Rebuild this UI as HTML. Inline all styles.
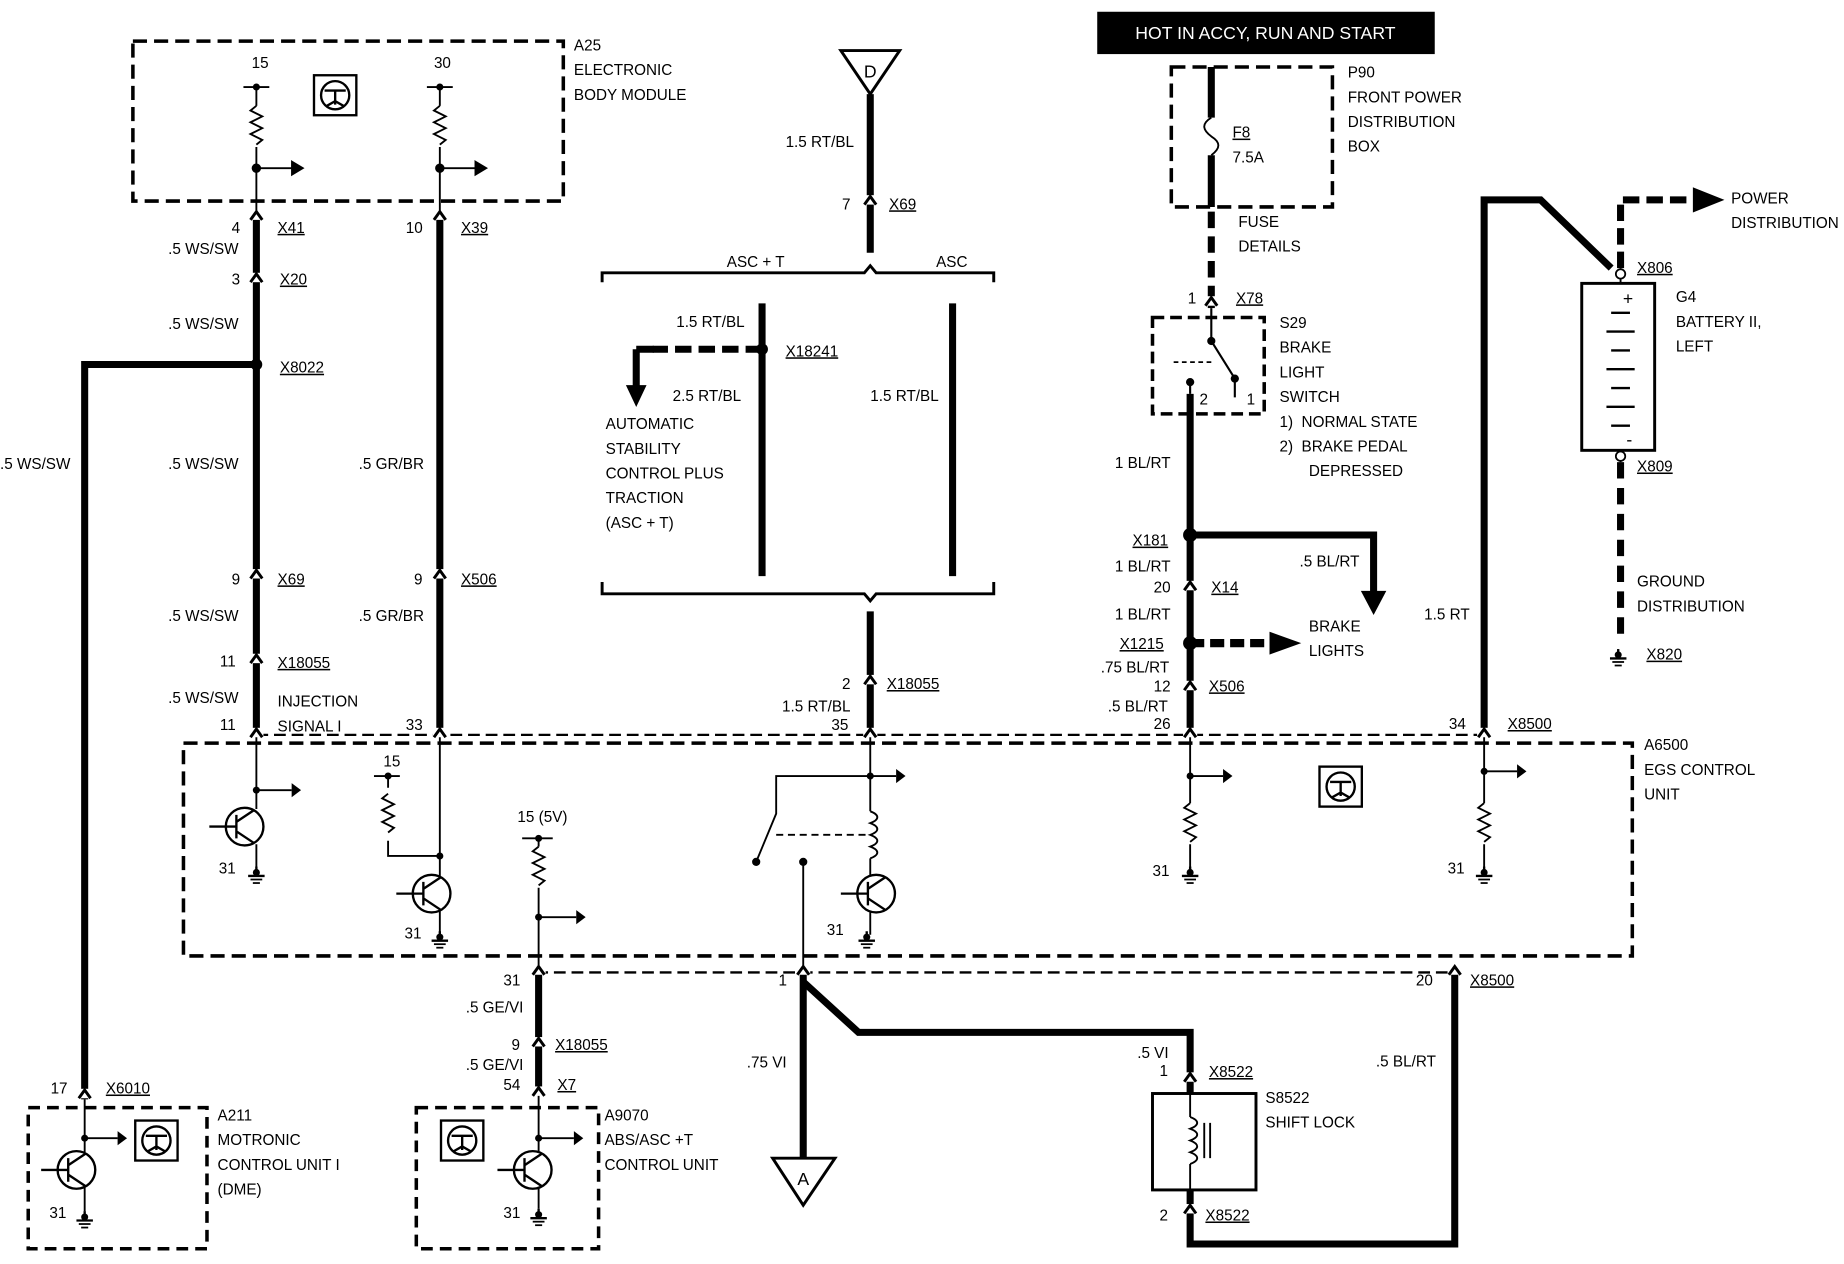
<!DOCTYPE html>
<html><head><meta charset="utf-8"><style>
html,body{margin:0;padding:0;background:#fff;}
svg{display:block;}
text{font-family:"Liberation Sans Narrow","Liberation Sans",sans-serif;font-size:13px;fill:#000;}
.u{text-decoration:underline;}
</style></head><body>
<svg width="1844" height="1264" viewBox="0 0 1568 1075" preserveAspectRatio="none" xmlns="http://www.w3.org/2000/svg">
<defs>
<g id="ch"><rect x="-6" y="-6" width="12" height="8" fill="#fff"/><path d="M-5,2 L0,-5 L5,2" stroke="#000" stroke-width="2.5" fill="none"/></g>
<g id="gnd"><line x1="0" y1="-8" x2="0" y2="0" stroke="#000" stroke-width="2"/><circle cx="0" cy="-3" r="3"/><line x1="-7" y1="0" x2="7" y2="0" stroke="#000" stroke-width="2"/><line x1="-5" y1="3" x2="5" y2="3" stroke="#000" stroke-width="1.5"/><line x1="-3" y1="6" x2="3" y2="6" stroke="#000" stroke-width="1.5"/></g>
<g id="ico"><rect x="0" y="0" width="36" height="34" fill="#fff" stroke="#000" stroke-width="2"/><circle cx="18" cy="17" r="12" fill="none" stroke="#000" stroke-width="2"/><path d="M9,13 H27 M18,13 V25 M18,22 L11,26 M18,22 L25,26" stroke="#000" stroke-width="2" fill="none"/></g>
<g id="res"><path d="M0,0 l-5,4 l10,5 l-10,5 l10,5 l-10,5 l10,5 l-5,4" stroke="#000" stroke-width="1.6" fill="none"/></g>
<g id="tr"><circle cx="0" cy="0" r="16" fill="none" stroke="#000" stroke-width="2"/><path d="M-30,0 H-7 M-7,-10 V10 M-7,-4 L8,-14 M-7,4 L8,14" stroke="#000" stroke-width="2" fill="none"/></g>
</defs>
<g fill="none" stroke="#000">
<!-- A25 -->
<rect x="113" y="35" width="366" height="136" stroke-width="3" stroke-dasharray="12,6"/>
<path d="M207,74H229M218,74V90M218,125V185M363,74H385M374,74V90M374,125V185" stroke-width="1.6"/>
<path d="M218,185V625M374,185V625" stroke-width="6"/>
<path d="M218,143H250M374,143H406" stroke-width="1.6"/>
<path d="M248,137L258,143L248,149Z M404,137L414,143L404,149Z" fill="#000"/>
<path d="M218,310H72V935" stroke-width="6"/>
<!-- D center -->
<path d="M715,43H765L740,80Z" stroke-width="2.5" fill="#fff"/>
<path d="M740,80V215" stroke-width="6"/>
<path d="M512,240V232H735L740,226L745,232H845V240" stroke-width="2.5"/>
<path d="M512,495V505H735L740,511L745,505H845V495" stroke-width="2.5"/>
<path d="M648,258V490M810,258V490" stroke-width="6"/>
<path d="M740,520V625" stroke-width="6"/>
<path d="M648,297H555" stroke-width="6" stroke-dasharray="14,6"/>
<path d="M541,297H556M541,297V330" stroke-width="6"/>
<path d="M533,328H549L541,345Z" fill="#000"/>
<!-- P90 / S29 -->
<rect x="996" y="57" width="137" height="119" stroke-width="3" stroke-dasharray="12,6"/>
<path d="M1030,57V100M1030,132V176" stroke-width="6"/>
<path d="M1030,100c-8,5 -8,10 0,16c8,5 8,10 0,16" stroke-width="1.6"/>
<path d="M1030,180V252" stroke-width="6" stroke-dasharray="14,7"/>
<path d="M1030,252V262" stroke-width="6"/>
<rect x="980" y="270" width="95" height="82" stroke-width="3" stroke-dasharray="10,5"/>
<path d="M1030,262V290L1050,322M1050,322V338M1012,325V335" stroke-width="1.8"/>
<path d="M1030,308H996" stroke-width="1.5" stroke-dasharray="4,3"/>
<path d="M1012,335V625" stroke-width="6"/>
<path d="M1012,455H1168V505" stroke-width="6"/>
<path d="M1158,503H1178L1168,522Z" fill="#000"/>
<path d="M1012,547H1082" stroke-width="7" stroke-dasharray="12,5"/>
<path d="M1080,538L1105,547L1080,556Z" fill="#000"/>
<!-- battery -->
<path d="M1262,625V170H1310L1370,228" stroke-width="6"/>
<path d="M1378,228V170H1440" stroke-width="6" stroke-dasharray="14,6"/>
<path d="M1440,160L1465,170L1440,180Z" fill="#000"/>
<rect x="1345" y="241" width="62" height="142" stroke-width="2.5"/>
<path d="M1378,228V241M1378,383V393" stroke-width="1.6"/>
<path d="M1378,393V545" stroke-width="6" stroke-dasharray="14,8"/>
<path d="M1370,266H1386M1366,282H1390M1370,298H1386M1366,314H1390M1370,330H1386M1366,346H1390M1370,362H1386" stroke-width="2"/>
<!-- A6500 -->
<rect x="156" y="632" width="1232" height="181" stroke-width="3" stroke-dasharray="12,6"/>
<path d="M218,625H1262" stroke-width="2" stroke-dasharray="10,5"/>
<path d="M456,827H1240" stroke-width="2" stroke-dasharray="10,5"/>
<path d="M218,625V688M218,718V738M218,672H248" stroke-width="1.6"/>
<path d="M374,625V728H330V715M330,670V660M318,660H340M374,728V745M374,775V795" stroke-width="1.6"/>
<path d="M444,713H470M458,713V720M458,755V827M458,780H490" stroke-width="1.6"/>
<path d="M740,625V690M740,730V745M740,776V795M740,660H762M740,660H660V692L643,733M683,733V827" stroke-width="1.6"/>
<path d="M740,690c8,3 8,7 0,10c8,3 8,7 0,10c8,3 8,7 0,10c8,3 8,7 0,10" stroke-width="1.6"/>
<path d="M660,710H740" stroke-width="1.6" stroke-dasharray="6,4"/>
<path d="M1012,625V683M1012,718V738M1012,660H1040M1262,625V683M1262,718V738M1262,656H1290" stroke-width="1.6"/>
<!-- bottom -->
<path d="M458,827V925" stroke-width="6"/>
<rect x="24" y="942" width="152" height="120" stroke-width="3" stroke-dasharray="10,6"/>
<rect x="354" y="942" width="155" height="120" stroke-width="3" stroke-dasharray="10,6"/>
<path d="M72,935V980M72,1010V1030M72,968H100M458,925V980M458,1010V1028M458,968H488" stroke-width="1.6"/>
<path d="M683,827V985" stroke-width="6"/>
<path d="M683,835L730,878H1012V930" stroke-width="6"/>
<path d="M657,985H710L683,1025Z" stroke-width="2.5" fill="#fff"/>
<rect x="980" y="930" width="88" height="82" stroke-width="2.5"/>
<path d="M1012,930V950M1012,990V1012" stroke-width="1.6"/>
<path d="M1012,950c8,3 8,7 0,10c8,3 8,7 0,10c8,3 8,7 0,10c8,3 8,7 0,10M1024,955V985M1029,955V985" stroke-width="1.6"/>
<path d="M1012,1012V1058H1237V827" stroke-width="6"/>
</g>
<!-- arrowheads small -->
<g fill="#000">
<path d="M248,666L256,672L248,678Z M762,654L770,660L762,666Z M1040,654L1048,660L1040,666Z M1290,650L1298,656L1290,662Z M490,774L498,780L490,786Z M100,962L108,968L100,974Z M488,962L496,968L488,974Z"/>
<circle cx="218" cy="143" r="4"/><circle cx="374" cy="143" r="4"/><circle cx="218" cy="74" r="3"/><circle cx="374" cy="74" r="3"/>
<circle cx="218" cy="310" r="5"/><circle cx="648" cy="297" r="5"/><circle cx="1012" cy="455" r="6"/><circle cx="1012" cy="547" r="6"/>
<circle cx="1030" cy="290" r="3.5"/><circle cx="1050" cy="322" r="3.5"/><circle cx="1012" cy="325" r="3.5"/>
<circle cx="218" cy="672" r="3"/><circle cx="374" cy="728" r="3"/><circle cx="330" cy="660" r="3"/><circle cx="458" cy="713" r="3"/><circle cx="458" cy="780" r="3"/>
<circle cx="740" cy="660" r="3"/><circle cx="643" cy="733" r="3.5"/><circle cx="683" cy="733" r="3.5"/>
<circle cx="1012" cy="660" r="3"/><circle cx="1262" cy="656" r="3"/><circle cx="72" cy="968" r="3"/><circle cx="458" cy="968" r="3"/>
</g>
<circle cx="1378" cy="233" r="4" fill="#fff" stroke="#000" stroke-width="1.5"/>
<circle cx="1378" cy="388" r="4" fill="#fff" stroke="#000" stroke-width="1.5"/>
<use href="#res" transform="translate(218,90)"/><use href="#res" transform="translate(374,90)"/>
<use href="#res" transform="translate(330,675)"/><use href="#res" transform="translate(458,720)"/>
<use href="#res" transform="translate(1012,683)"/><use href="#res" transform="translate(1262,683)"/>
<use href="#tr" transform="translate(208,703)"/><use href="#tr" transform="translate(367,760)"/>
<use href="#tr" transform="translate(745,760)"/><use href="#tr" transform="translate(65,995)"/><use href="#tr" transform="translate(453,995)"/>
<use href="#gnd" transform="translate(218,745)"/><use href="#gnd" transform="translate(374,800)"/><use href="#gnd" transform="translate(737,800)"/>
<use href="#gnd" transform="translate(1012,745)"/><use href="#gnd" transform="translate(1262,745)"/><use href="#gnd" transform="translate(72,1038)"/>
<use href="#gnd" transform="translate(458,1036)"/><use href="#gnd" transform="translate(1376,560)"/>
<use href="#ico" transform="translate(267,64)"/><use href="#ico" transform="translate(1122,652)"/><use href="#ico" transform="translate(115,953)"/><use href="#ico" transform="translate(375,953)"/>
<use href="#ch" transform="translate(218,185)"/><use href="#ch" transform="translate(218,238)"/><use href="#ch" transform="translate(218,490)"/><use href="#ch" transform="translate(218,562)"/><use href="#ch" transform="translate(218,625)"/>
<use href="#ch" transform="translate(374,185)"/><use href="#ch" transform="translate(374,490)"/><use href="#ch" transform="translate(374,625)"/>
<use href="#ch" transform="translate(740,172)"/><use href="#ch" transform="translate(740,580)"/><use href="#ch" transform="translate(740,625)"/>
<use href="#ch" transform="translate(1030,258)"/><use href="#ch" transform="translate(1012,500)"/><use href="#ch" transform="translate(1012,585)"/><use href="#ch" transform="translate(1012,625)"/>
<use href="#ch" transform="translate(1262,625)"/><use href="#ch" transform="translate(683,827)"/><use href="#ch" transform="translate(1237,827)"/>
<use href="#ch" transform="translate(458,827)"/><use href="#ch" transform="translate(458,888)"/><use href="#ch" transform="translate(458,930)"/><use href="#ch" transform="translate(72,932)"/>
<use href="#ch" transform="translate(1012,918)"/><use href="#ch" transform="translate(1012,1030)"/>
<!-- texts -->
<rect x="933" y="10" width="287" height="36" fill="#000"/>
<text x="1076" y="33" text-anchor="middle" style="fill:#fff;font-size:15px">HOT IN ACCY, RUN AND START</text>
<text x="740" y="66" text-anchor="middle" style="font-size:15px">D</text>
<text x="683" y="1008" text-anchor="middle" style="font-size:15px">A</text>
<text x="1380" y="259" style="font-size:15px">+</text><text x="1383" y="379" style="font-size:15px">-</text>
<g>
<text x="488" y="43">A25</text><text x="488" y="64">ELECTRONIC</text><text x="488" y="85">BODY MODULE</text>
<text x="214" y="58">15</text><text x="369" y="58">30</text>
<text x="197" y="198">4</text><text x="236" y="198" class="u">X41</text><text x="143" y="216">.5 WS/SW</text>
<text x="197" y="242">3</text><text x="238" y="242" class="u">X20</text><text x="143" y="280">.5 WS/SW</text>
<text x="238" y="317" class="u">X8022</text><text x="143" y="399">.5 WS/SW</text><text x="0" y="399">.5 WS/SW</text>
<text x="197" y="497">9</text><text x="236" y="497" class="u">X69</text><text x="143" y="528">.5 WS/SW</text>
<text x="187" y="567">11</text><text x="236" y="568" class="u">X18055</text><text x="143" y="598">.5 WS/SW</text>
<text x="236" y="601">INJECTION</text><text x="187" y="621">11</text><text x="236" y="622">SIGNAL I</text>
<text x="345" y="198">10</text><text x="392" y="198" class="u">X39</text><text x="305" y="399">.5 GR/BR</text>
<text x="352" y="497">9</text><text x="392" y="497" class="u">X506</text><text x="305" y="528">.5 GR/BR</text><text x="345" y="621">33</text>
<text x="668" y="125">1.5 RT/BL</text><text x="716" y="178">7</text><text x="756" y="178" class="u">X69</text>
<text x="618" y="227">ASC + T</text><text x="796" y="227">ASC</text>
<text x="575" y="278">1.5 RT/BL</text><text x="668" y="303" class="u">X18241</text>
<text x="572" y="341">2.5 RT/BL</text><text x="740" y="341">1.5 RT/BL</text>
<text x="515" y="365">AUTOMATIC</text><text x="515" y="386">STABILITY</text><text x="515" y="407">CONTROL PLUS</text><text x="515" y="428">TRACTION</text><text x="515" y="449">(ASC + T)</text>
<text x="716" y="586">2</text><text x="754" y="586" class="u">X18055</text><text x="665" y="605">1.5 RT/BL</text><text x="707" y="621">35</text>
<text x="1048" y="117" class="u">F8</text><text x="1048" y="138">7.5A</text>
<text x="1146" y="66">P90</text><text x="1146" y="87">FRONT POWER</text><text x="1146" y="108">DISTRIBUTION</text><text x="1146" y="129">BOX</text>
<text x="1053" y="193">FUSE</text><text x="1053" y="214">DETAILS</text>
<text x="1010" y="258">1</text><text x="1051" y="258" class="u">X78</text>
<text x="1088" y="279">S29</text><text x="1088" y="300">BRAKE</text><text x="1088" y="321">LIGHT</text><text x="1088" y="342">SWITCH</text>
<text x="1088" y="363">1)&#160;&#160;NORMAL STATE</text><text x="1088" y="384">2)&#160;&#160;BRAKE PEDAL</text><text x="1113" y="405">DEPRESSED</text>
<text x="1020" y="344">2</text><text x="1060" y="344">1</text>
<text x="948" y="398">1 BL/RT</text><text x="963" y="464" class="u">X181</text><text x="1105" y="482">.5 BL/RT</text>
<text x="948" y="486">1 BL/RT</text><text x="981" y="504">20</text><text x="1030" y="504" class="u">X14</text>
<text x="948" y="527">1 BL/RT</text><text x="952" y="552" class="u">X1215</text><text x="1113" y="537">BRAKE</text><text x="1113" y="558">LIGHTS</text>
<text x="936" y="572">.75 BL/RT</text><text x="981" y="588">12</text><text x="1028" y="588" class="u">X506</text>
<text x="942" y="605">.5 BL/RT</text><text x="981" y="620">26</text>
<text x="1472" y="173">POWER</text><text x="1472" y="194">DISTRIBUTION</text>
<text x="1392" y="232" class="u">X806</text><text x="1425" y="257">G4</text><text x="1425" y="278">BATTERY II,</text><text x="1425" y="299">LEFT</text>
<text x="1392" y="401" class="u">X809</text><text x="1392" y="499">GROUND</text><text x="1392" y="520">DISTRIBUTION</text><text x="1400" y="561" class="u">X820</text>
<text x="1211" y="527">1.5 RT</text><text x="1232" y="620">34</text><text x="1282" y="620" class="u">X8500</text>
<text x="1398" y="638">A6500</text><text x="1398" y="659">EGS CONTROL</text><text x="1398" y="680">UNIT</text>
<text x="326" y="652">15</text><text x="186" y="743">31</text><text x="344" y="798">31</text><text x="440" y="699">15 (5V)</text>
<text x="703" y="795">31</text><text x="980" y="745">31</text><text x="1231" y="743">31</text>
<text x="428" y="838">31</text><text x="396" y="861">.5 GE/VI</text><text x="435" y="893">9</text><text x="472" y="893" class="u">X18055</text>
<text x="396" y="910">.5 GE/VI</text><text x="428" y="927">54</text><text x="474" y="927" class="u">X7</text>
<text x="514" y="953">A9070</text><text x="514" y="974">ABS/ASC +T</text><text x="514" y="995">CONTROL UNIT</text><text x="428" y="1036">31</text>
<text x="43" y="930">17</text><text x="90" y="930" class="u">X6010</text>
<text x="185" y="953">A211</text><text x="185" y="974">MOTRONIC</text><text x="185" y="995">CONTROL UNIT I</text><text x="185" y="1016">(DME)</text><text x="42" y="1036">31</text>
<text x="662" y="838">1</text><text x="635" y="908">.75 VI</text>
<text x="967" y="900">.5 VI</text><text x="986" y="915">1</text><text x="1028" y="916" class="u">X8522</text>
<text x="1076" y="938">S8522</text><text x="1076" y="959">SHIFT LOCK</text>
<text x="986" y="1038">2</text><text x="1025" y="1038" class="u">X8522</text>
<text x="1204" y="838">20</text><text x="1250" y="838" class="u">X8500</text><text x="1170" y="907">.5 BL/RT</text>
</g>
</svg>
</body></html>
